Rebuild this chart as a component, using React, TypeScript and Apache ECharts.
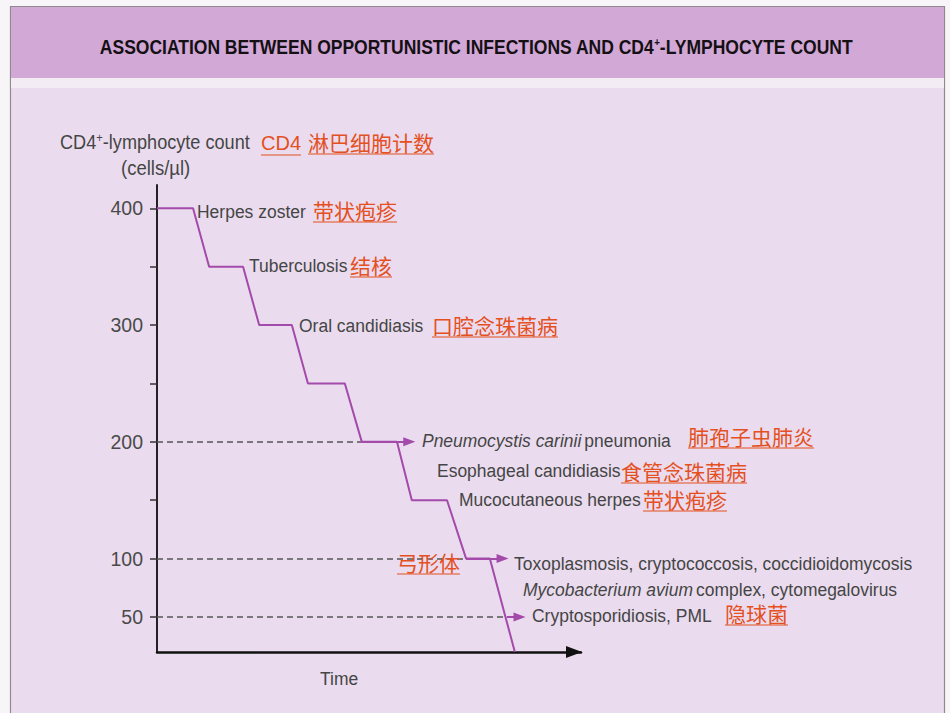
import React, { useEffect, useRef } from 'react';
import * as echarts from 'echarts';

// ---- data ----
const timePoints = [0, 8.5, 12.3, 20.3, 24.1, 31.8, 35.6, 44.3, 48.3, 56.6, 60.1, 68.4, 72.9, 78.5, 84.4];
const cd4Counts = [400, 400, 350, 350, 300, 300, 250, 250, 200, 200, 150, 150, 100, 100, 20];
const yTickValues = [50, 100, 150, 200, 250, 300, 350, 400];
const yLabelValues = [50, 100, 200, 300, 400];
const thresholdLevels = [200, 100, 50];
const dashedEnds = [48.3, 72.9, 82.5];
const arrowStarts = [48.3, 72.9, 82.5];
const arrowTips = [59.5, 81.5, 85.5];

const TITLE_MAIN = 'ASSOCIATION BETWEEN OPPORTUNISTIC INFECTIONS AND CD4';
const TITLE_TAIL = '-LYMPHOCYTE COUNT';

const PURPLE = '#A34AAB';
const GRAY_TEXT = '#454545';
const ORANGE = '#E4501F';
const EN_FONT = "'Liberation Sans', Arial, Helvetica, sans-serif";
const CJK_FONT = "'Noto Sans CJK SC', 'Noto Sans CJK JP', sans-serif";

export default function App() {
  const ref = useRef<HTMLDivElement>(null);

  useEffect(() => {
    document.body.style.margin = '0';
    const chart = echarts.init(ref.current!, null, { renderer: 'svg' });

    const SX = 0.92;
    const enText = (text: string, x: number, y: number, extra: any = {}, scaleX = SX) => ({
      type: 'text', x, y, z: 30, scaleX,
      style: {
        text, fill: GRAY_TEXT, fontSize: 19, fontFamily: EN_FONT,
        verticalAlign: 'middle', textVerticalAlign: 'middle', ...extra,
      },
    });
    const richEn = (text: string, x: number, y: number) => ({
      type: 'text', x, y, z: 30, scaleX: SX,
      style: {
        text,
        verticalAlign: 'middle', textVerticalAlign: 'middle',
        rich: {
          i: { fontSize: 19, fontStyle: 'italic', fontFamily: EN_FONT, fill: GRAY_TEXT, color: GRAY_TEXT },
          n: { fontSize: 19, fontFamily: EN_FONT, fill: GRAY_TEXT, color: GRAY_TEXT },
        },
      },
    });
    const cnText = (text: string, x: number, y: number, size = 21) => [
      {
        type: 'text', x, y, z: 30,
        style: { text, fill: ORANGE, fontSize: size, fontFamily: CJK_FONT, verticalAlign: 'middle', textVerticalAlign: 'middle' },
      },
      {
        type: 'line', z: 30,
        shape: { x1: x, y1: y + 12, x2: x + text.length * size, y2: y + 12 },
        style: { stroke: ORANGE, lineWidth: 1.2 },
      },
    ];

    const graphic: any[] = [
      { type: 'rect', z: -10, shape: { x: 0, y: 0, width: 950, height: 713 }, style: { fill: '#F7F5F7' } },
      { type: 'rect', z: -9, shape: { x: 10.5, y: 6.5, width: 934, height: 720 }, style: { fill: '#EADCEE', stroke: '#8E8A8E', lineWidth: 1.2 } },
      { type: 'rect', z: -8, shape: { x: 11, y: 7, width: 933, height: 71 }, style: { fill: '#D2A8D6' } },
      { type: 'rect', z: -8, shape: { x: 11, y: 78, width: 933, height: 10 }, style: { fill: '#F3ECF4' } },
      {
        type: 'text', x: 476, y: 47, z: 30, scaleX: 0.875,
        style: {
          text: `{a|${TITLE_MAIN}}{s|+}{a|${TITLE_TAIL}}`,
          align: 'center', textAlign: 'center', verticalAlign: 'middle', textVerticalAlign: 'middle',
          rich: {
            a: { fontSize: 20, fontWeight: 'bold', fontFamily: EN_FONT, fill: '#141014', color: '#141014' },
            s: { fontSize: 11, fontWeight: 'bold', fontFamily: EN_FONT, fill: '#141014', color: '#141014', verticalAlign: 'top' },
          },
        },
      },
      {
        type: 'text', x: 60, y: 142, z: 30, scaleX: 0.93,
        style: {
          text: '{a|CD4}{s|+}{a|-lymphocyte count}',
          verticalAlign: 'middle', textVerticalAlign: 'middle',
          rich: {
            a: { fontSize: 19.5, fontFamily: EN_FONT, fill: GRAY_TEXT, color: GRAY_TEXT },
            s: { fontSize: 12, fontFamily: EN_FONT, fill: GRAY_TEXT, color: GRAY_TEXT, verticalAlign: 'top' },
          },
        },
      },
      enText('(cells/\u00B5l)', 121, 168, { fontSize: 19.5 }, 0.95),
      {
        type: 'text', x: 261, y: 143, z: 30,
        style: { text: 'CD4', fill: ORANGE, fontSize: 20, fontFamily: EN_FONT, verticalAlign: 'middle', textVerticalAlign: 'middle' },
      },
      { type: 'line', z: 30, shape: { x1: 261, y1: 155, x2: 301, y2: 155 }, style: { stroke: ORANGE, lineWidth: 1.2 } },
      ...cnText('淋巴细胞计数', 308, 142),
      enText('Herpes zoster', 197, 211),
      ...cnText('带状疱疹', 313, 210),
      enText('Tuberculosis', 249, 265),
      ...cnText('结核', 350, 265),
      enText('Oral candidiasis', 299, 325),
      ...cnText('口腔念珠菌病', 432, 325),
      richEn('{i|Pneumocystis carinii} {n|pneumonia}', 422, 440),
      ...cnText('肺孢子虫肺炎', 688, 436),
      enText('Esophageal candidiasis', 437, 470),
      ...cnText('食管念珠菌病', 621, 471),
      enText('Mucocutaneous herpes', 459, 499),
      ...cnText('带状疱疹', 643, 499),
      ...cnText('弓形体', 397, 562),
      enText('Toxoplasmosis, cryptococcosis, coccidioidomycosis', 514, 563),
      richEn('{i|Mycobacterium avium} {n|complex, cytomegalovirus}', 523, 589),
      enText('Cryptosporidiosis, PML', 532, 615),
      ...cnText('隐球菌', 725, 613),
      enText('Time', 320, 678),
    ];

    const markData: any[] = [];
    thresholdLevels.forEach((lv, i) => {
      markData.push([
        { coord: [0, lv], symbol: 'none', lineStyle: { color: '#555', width: 1.5, type: [6, 4] } },
        { coord: [dashedEnds[i], lv], symbol: 'none' },
      ]);
    });
    thresholdLevels.forEach((lv, i) => {
      markData.push([
        { coord: [arrowStarts[i], lv], symbol: 'none', lineStyle: { color: PURPLE, width: 2, type: 'solid' } },
        { coord: [arrowTips[i], lv], symbol: 'triangle', symbolSize: [9, 12] },
      ]);
    });

    const option: any = {
      animation: false,
      backgroundColor: 'transparent',
      grid: { left: 157, right: 369, top: 185, bottom: 61, containLabel: false },
      xAxis: {
        type: 'value', min: 0, max: 100,
        axisLine: {
          show: true, onZero: false,
          lineStyle: { color: '#111', width: 2.5 },
          symbol: ['none', 'triangle'], symbolSize: [12, 16], symbolOffset: [0, -7],
        },
        axisTick: { show: false }, axisLabel: { show: false }, splitLine: { show: false },
      },
      yAxis: {
        type: 'value', min: 20, max: 420,
        axisLine: { show: true, onZero: false, lineStyle: { color: '#222', width: 2 } },
        axisTick: { show: true, length: 7, lineStyle: { color: '#333', width: 1.5 }, customValues: yTickValues },
        axisLabel: { customValues: yLabelValues, margin: 14, color: '#4a4a4a', fontSize: 19.5, fontFamily: EN_FONT },
        splitLine: { show: false },
      },
      series: [
        {
          type: 'line',
          data: timePoints.map((t, i) => [t, cd4Counts[i]]),
          symbol: 'none', showSymbol: false, silent: true, z: 5,
          lineStyle: { color: PURPLE, width: 2 },
          markLine: {
            silent: true, animation: false,
            label: { show: false },
            symbol: ['none', 'none'],
            data: markData,
          },
        },
      ],
      graphic,
    };
    chart.setOption(option);
    return () => chart.dispose();
  }, []);

  return <div ref={ref} style={{ width: 950, height: 713 }} />;
}
